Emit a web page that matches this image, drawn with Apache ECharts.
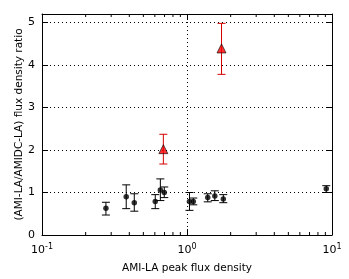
<!DOCTYPE html>
<html>
<head>
<meta charset="utf-8">
<script src="https://cdn.jsdelivr.net/npm/echarts@6/dist/echarts.min.js"></script>
<style>html,body{margin:0;padding:0;background:#fff}#c{width:349px;height:279px}</style>
</head>
<body>
<div id="c"></div>
<script>
var blackX = [0.276, 0.381, 0.433, 0.604, 0.655, 0.697, 1.04, 1.105, 1.39, 1.555, 1.78, 9.13];
var blackY = [0.63, 0.90, 0.76, 0.79, 1.06, 1.00, 0.79, 0.79, 0.88, 0.92, 0.85, 1.09];
var blackLo = [0.47, 0.62, 0.56, 0.62, 0.81, 0.88, 0.58, 0.71, 0.78, 0.81, 0.76, 1.00];
var blackHi = [0.77, 1.18, 0.97, 0.95, 1.32, 1.13, 1.00, 0.87, 0.97, 1.04, 0.95, 1.16];
var redX = [0.687, 1.73];
var redY = [2.02, 4.39];
var redLo = [1.67, 3.78];
var redHi = [2.37, 4.98];
var minorTicks = [0.2,0.3,0.4,0.5,0.6,0.7,0.8,0.9,2,3,4,5,6,7,8,9];
var xTickLabels = {'0.1': '-1', '1': '0', '10': '1'};

var FONT = 'DejaVu Sans';

function errData(xs, lo, hi) {
  return xs.map(function (x, i) { return [x, lo[i], hi[i]]; });
}
function pts(xs, ys) {
  return xs.map(function (x, i) { return [x, ys[i]]; });
}
function errRender(color) {
  return function (params, api) {
    var x = api.value(0);
    var p1 = api.coord([x, api.value(1)]);
    var p2 = api.coord([x, api.value(2)]);
    var cw = 4;
    var st = { stroke: color, lineWidth: 1 };
    return {
      type: 'group',
      children: [
        { type: 'line', shape: { x1: p1[0], y1: p1[1], x2: p2[0], y2: p2[1] }, style: st },
        { type: 'line', shape: { x1: p1[0] - cw, y1: p1[1], x2: p1[0] + cw, y2: p1[1] }, style: st },
        { type: 'line', shape: { x1: p2[0] - cw, y1: p2[1], x2: p2[0] + cw, y2: p2[1] }, style: st }
      ]
    };
  };
}

var chart = echarts.init(document.getElementById('c'), null, { renderer: 'canvas' });
var axisLineStyle = { color: '#000', width: 1 };
var gridLine = { show: true, lineStyle: { color: '#000', type: [1, 3], width: 1 } };

chart.setOption({
  animation: false,
  grid: { left: 42, right: 17, top: 14, bottom: 42 },
  xAxis: [{
    type: 'log', logBase: 10, min: 0.1, max: 10, position: 'bottom',
    axisLine: { onZero: false, lineStyle: axisLineStyle },
    axisTick: { inside: true, length: 6, lineStyle: axisLineStyle },
    splitLine: gridLine,
    axisLabel: {
      color: '#000', fontFamily: FONT, margin: 8,
      formatter: function (v) {
        var k = xTickLabels[String(+v.toPrecision(3))];
        return '{b|10}{s|' + k + '}';
      },
      rich: {
        b: { fontSize: 11, fontFamily: FONT, color: '#000' },
        s: { fontSize: 8, fontFamily: FONT, color: '#000', padding: [0, 0, 7, 0] }
      }
    },
    name: 'AMI-LA peak flux density', nameLocation: 'middle', nameGap: 28,
    nameTextStyle: { fontFamily: FONT, fontSize: 10.5, color: '#000' }
  }, {
    type: 'log', logBase: 10, min: 0.1, max: 10, position: 'top',
    axisLine: { show: true, onZero: false, lineStyle: axisLineStyle },
    axisTick: { show: true, inside: true, length: 6, lineStyle: axisLineStyle },
    splitLine: { show: false },
    axisLabel: { show: false }
  }],
  yAxis: [{
    type: 'value', min: 0, max: 5.2, interval: 1, position: 'left',
    axisLine: { show: true, onZero: false, lineStyle: axisLineStyle },
    axisTick: { show: true, inside: true, length: 6, lineStyle: axisLineStyle },
    splitLine: gridLine,
    axisLabel: {
      color: '#000', fontFamily: FONT, fontSize: 11, margin: 7,
      showMaxLabel: false
    },
    name: '(AMI-LA/AMIDC-LA) flux density ratio', nameLocation: 'middle', nameGap: 17,
    nameMoveOverlap: false,
    nameTextStyle: { fontFamily: FONT, fontSize: 10.5, color: '#000' }
  }, {
    type: 'value', min: 0, max: 5.2, interval: 1, position: 'right',
    axisLine: { show: true, onZero: false, lineStyle: axisLineStyle },
    axisTick: { show: true, inside: true, length: 6, lineStyle: axisLineStyle },
    splitLine: { show: false },
    axisLabel: { show: false }
  }],
  series: [{
    type: 'custom',
    silent: true,
    data: minorTicks.map(function (v) { return [v, 0]; }),
    renderItem: function (params, api) {
      var p = api.coord([api.value(0), 0]);
      var cs = params.coordSys;
      var st = { stroke: '#000', lineWidth: 1 };
      return {
        type: 'group',
        children: [
          { type: 'line', shape: { x1: p[0], y1: cs.y + cs.height, x2: p[0], y2: cs.y + cs.height - 3 }, style: st },
          { type: 'line', shape: { x1: p[0], y1: cs.y, x2: p[0], y2: cs.y + 3 }, style: st }
        ]
      };
    },
    clip: false, z: 3
  }, {
    type: 'custom', silent: true,
    data: errData(blackX, blackLo, blackHi),
    renderItem: errRender('#000'), z: 4
  }, {
    type: 'custom', silent: true,
    data: errData(redX, redLo, redHi),
    renderItem: errRender('#d40000'), z: 4
  }, {
    type: 'scatter', silent: true,
    data: pts(blackX, blackY),
    symbol: 'circle', symbolSize: 5.5,
    itemStyle: { color: '#000' }, z: 5
  }, {
    type: 'scatter', silent: true,
    data: pts(redX, redY),
    symbol: 'triangle', symbolSize: 9,
    itemStyle: { color: '#ff0000', borderColor: '#000', borderWidth: 0.8 }, z: 5
  }]
});
</script>
</body>
</html>
